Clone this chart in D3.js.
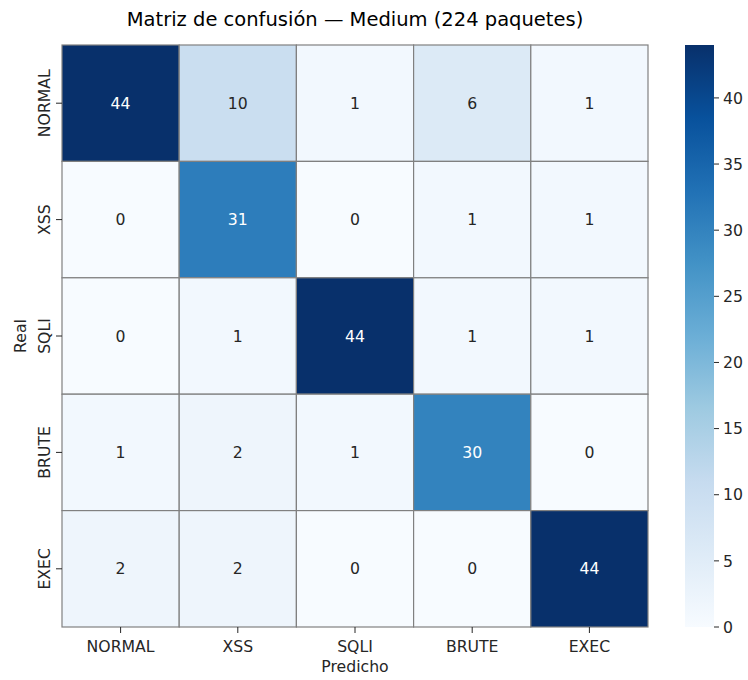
<!DOCTYPE html>
<html>
<head>
<meta charset="utf-8">
<script src="https://cdn.jsdelivr.net/npm/d3@7"></script>
<style>
  html, body { margin: 0; padding: 0; background: #fff; }
  svg text { font-family: "DejaVu Sans", sans-serif; }
</style>
</head>
<body>
<svg id="chart" width="748" height="680"></svg>
<script>
// Confusion matrix data (rows = real class, columns = predicted class)
const classes = ["NORMAL", "XSS", "SQLI", "BRUTE", "EXEC"];
const rowNORMAL = [44, 10, 1, 6, 1];
const rowXSS    = [0, 31, 0, 1, 1];
const rowSQLI   = [0, 1, 44, 1, 1];
const rowBRUTE  = [1, 2, 1, 30, 0];
const rowEXEC   = [2, 2, 0, 0, 44];
const matrix = [rowNORMAL, rowXSS, rowSQLI, rowBRUTE, rowEXEC];
const colorbarTicks = [0, 5, 10, 15, 20, 25, 30, 35, 40];
const titleText = "Matriz de confusión — Medium (224 paquetes)";

// Blues palette stops, linearly interpolated
const blues = ["#f7fbff","#deebf7","#c6dbef","#9ecae1","#6baed6","#4292c6","#2171b5","#08519c","#08306b"];
const vmin = 0, vmax = d3.max(matrix.flat());
const color = d3.scaleLinear()
  .domain(blues.map((_, i) => vmin + (vmax - vmin) * i / (blues.length - 1)))
  .range(blues)
  .interpolate(d3.interpolateRgb)
  .clamp(true);

function luminance(c) {
  const rgb = d3.rgb(c);
  const lin = v => { v /= 255; return v <= 0.03928 ? v / 12.92 : Math.pow((v + 0.055) / 1.055, 2.4); };
  return 0.2126 * lin(rgb.r) + 0.7152 * lin(rgb.g) + 0.0722 * lin(rgb.b);
}

const svg = d3.select("#chart");
const plot = { left: 62, top: 45, right: 648, bottom: 627 };
const textColor = "#262626";
const fs = 15.7;

const x = d3.scaleBand().domain(classes).range([plot.left, plot.right]);
const y = d3.scaleBand().domain(classes).range([plot.top, plot.bottom]);

// Title
svg.append("text")
  .attr("x", (plot.left + plot.right) / 2)
  .attr("y", 26)
  .attr("text-anchor", "middle")
  .attr("font-size", 19.5)
  .attr("fill", "#000")
  .text(titleText);

// Cells
const cells = [];
matrix.forEach((row, i) => row.forEach((v, j) => cells.push({ r: classes[i], c: classes[j], v })));

const g = svg.append("g");
g.selectAll("rect.cell").data(cells).join("rect")
  .attr("class", "cell")
  .attr("x", d => x(d.c))
  .attr("y", d => y(d.r))
  .attr("width", x.bandwidth())
  .attr("height", y.bandwidth())
  .attr("fill", d => color(d.v))
  .attr("stroke", "#808080")
  .attr("stroke-width", 1.2);

g.selectAll("text.annot").data(cells).join("text")
  .attr("class", "annot")
  .attr("x", d => x(d.c) + x.bandwidth() / 2)
  .attr("y", d => y(d.r) + y.bandwidth() / 2)
  .attr("dy", "0.36em")
  .attr("text-anchor", "middle")
  .attr("font-size", fs)
  .attr("fill", d => luminance(color(d.v)) > 0.408 ? textColor : "#ffffff")
  .text(d => d.v);

// X axis
const xAxis = svg.append("g").attr("transform", `translate(0,${plot.bottom})`);
classes.forEach(c => {
  const cx = x(c) + x.bandwidth() / 2;
  xAxis.append("line").attr("x1", cx).attr("x2", cx).attr("y1", 0).attr("y2", 6)
    .attr("stroke", textColor).attr("stroke-width", 1);
  xAxis.append("text").attr("x", cx).attr("y", 25)
    .attr("text-anchor", "middle").attr("font-size", fs).attr("fill", textColor).text(c);
});
svg.append("text")
  .attr("x", (plot.left + plot.right) / 2).attr("y", 672)
  .attr("text-anchor", "middle").attr("font-size", fs).attr("fill", textColor)
  .text("Predicho");

// Y axis (rotated labels)
const yAxis = svg.append("g").attr("transform", `translate(${plot.left},0)`);
classes.forEach(r => {
  const cy = y(r) + y.bandwidth() / 2;
  yAxis.append("line").attr("x1", -6).attr("x2", 0).attr("y1", cy).attr("y2", cy)
    .attr("stroke", textColor).attr("stroke-width", 1);
  yAxis.append("text")
    .attr("transform", `translate(-12,${cy}) rotate(-90)`)
    .attr("text-anchor", "middle").attr("font-size", fs).attr("fill", textColor).text(r);
});
svg.append("text")
  .attr("transform", `translate(26,${(plot.top + plot.bottom) / 2}) rotate(-90)`)
  .attr("text-anchor", "middle").attr("font-size", fs).attr("fill", textColor)
  .text("Real");

// Colorbar
const cb = { left: 685, width: 29 };
const cbScale = d3.scaleLinear().domain([vmin, vmax]).range([plot.bottom, plot.top]);
const defs = svg.append("defs");
const grad = defs.append("linearGradient").attr("id", "cbGrad")
  .attr("x1", 0).attr("y1", 1).attr("x2", 0).attr("y2", 0);
blues.forEach((c, i) => grad.append("stop").attr("offset", i / (blues.length - 1)).attr("stop-color", c));
svg.append("rect")
  .attr("x", cb.left).attr("y", plot.top)
  .attr("width", cb.width).attr("height", plot.bottom - plot.top)
  .attr("fill", "url(#cbGrad)");

const cbAxis = svg.append("g").attr("transform", `translate(${cb.left + cb.width},0)`);
colorbarTicks.forEach(t => {
  const ty = cbScale(t);
  cbAxis.append("line").attr("x1", 0).attr("x2", 5).attr("y1", ty).attr("y2", ty)
    .attr("stroke", textColor).attr("stroke-width", 1);
  cbAxis.append("text").attr("x", 9).attr("y", ty).attr("dy", "0.36em")
    .attr("font-size", fs).attr("fill", textColor).text(t);
});
</script>
</body>
</html>
